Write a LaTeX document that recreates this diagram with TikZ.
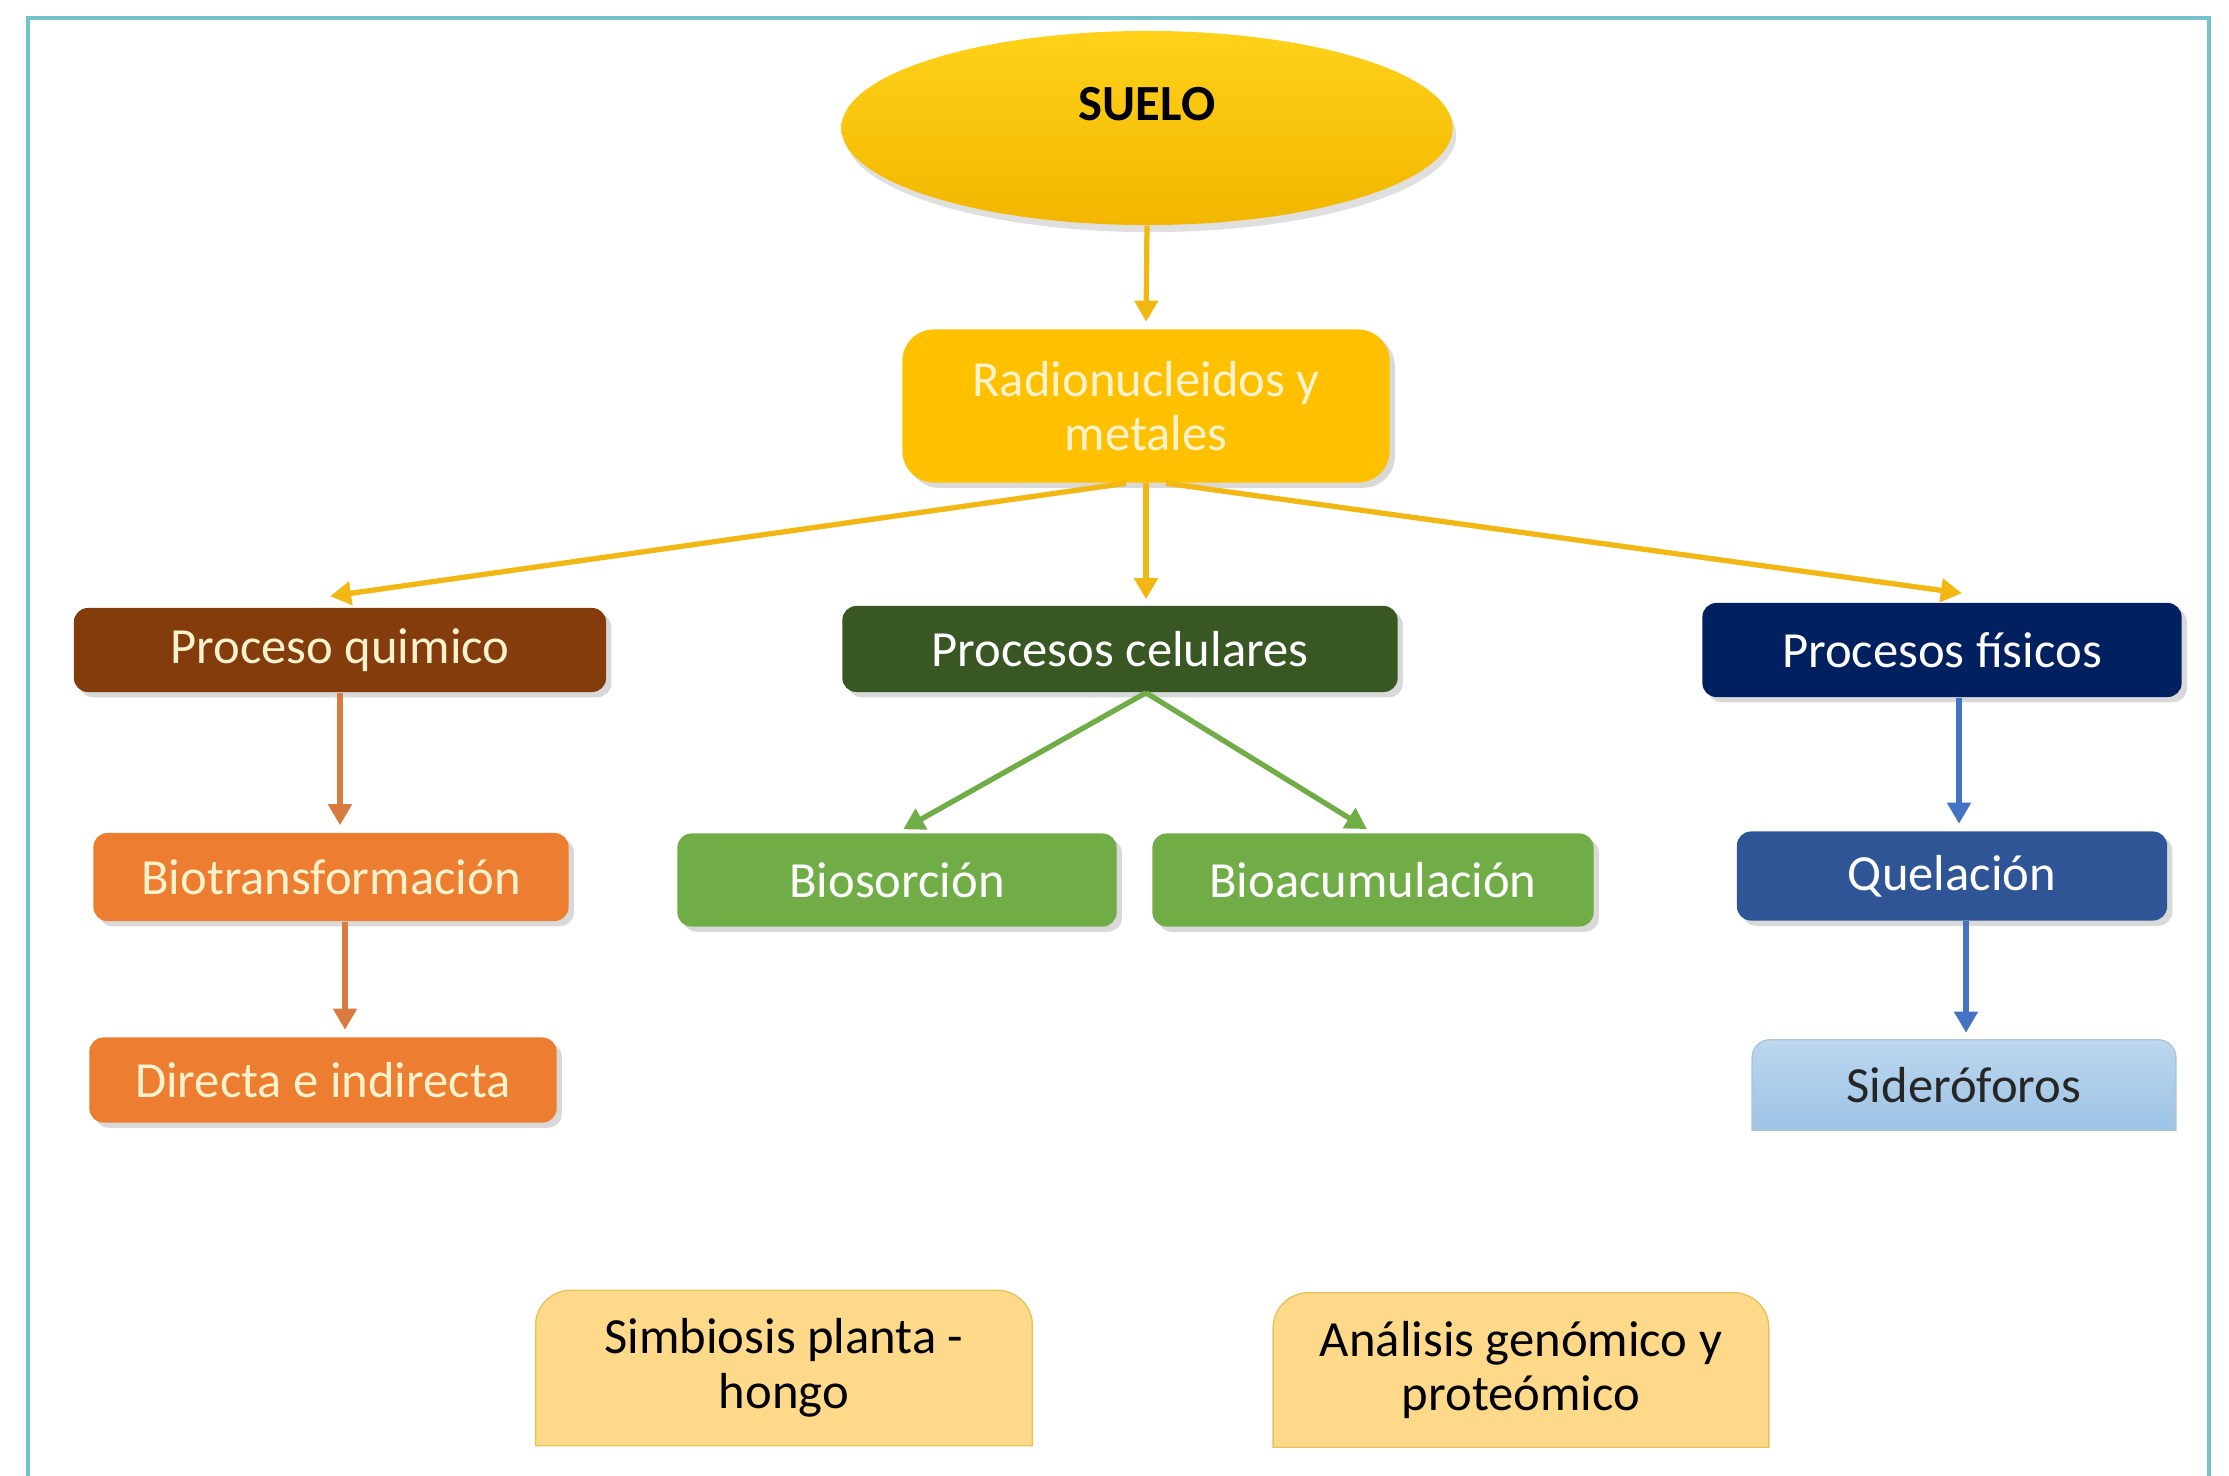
\documentclass[tikz,border=0pt]{standalone}
\usepackage{fontspec}
\setmainfont{Carlito}
\usepackage{tikz}
\usetikzlibrary{arrows.meta,shapes.geometric,shadows,backgrounds}
\definecolor{oro}{HTML}{FFC000}
\definecolor{oroflecha}{HTML}{F2B712}
\definecolor{cafe}{HTML}{843C0C}
\definecolor{naranja}{HTML}{ED7D31}
\definecolor{cafeflecha}{HTML}{D97B3F}
\definecolor{verdeosc}{HTML}{385723}
\definecolor{verde}{HTML}{70AD47}
\definecolor{marino}{HTML}{002060}
\definecolor{azul}{HTML}{2F5597}
\definecolor{azulflecha}{HTML}{4472C4}
\definecolor{celeste}{HTML}{9DC3E6}
\definecolor{celestecl}{HTML}{BDD7EE}
\definecolor{crema}{HTML}{FFD98A}
\definecolor{bordecrema}{HTML}{E8C25B}
\definecolor{marco}{HTML}{72C3CC}
\definecolor{textocrema}{HTML}{FFF2CC}

\begin{document}
\begin{tikzpicture}[x=.01cm,y=-.01cm,>={Triangle[length=6pt,width=6.5pt]},
  every node/.style={font=\fontsize{14.4}{15.5}\selectfont,align=center,inner sep=0pt},
  caja/.style={rectangle,rounded corners=4pt,text=textocrema,drop shadow={shadow xshift=1.5pt,shadow yshift=-1.5pt,opacity=.3}},
  flecha/.style={->,line width=1.5pt,shorten >=2pt}]
\useasboundingbox (0,0) rectangle (2229,1476);
\draw[marco,line width=1pt] (28,1476)--(28,18)--(2209,18)--(2209,1476);

\node[ellipse,top color=oro!80!yellow!90!white,bottom color=oro!95!black,minimum width=6.11cm,minimum height=1.94cm,text height=.3cm,text depth=.45cm,font=\fontsize{14.4}{15.5}\selectfont\bfseries,drop shadow={shadow xshift=1pt,shadow yshift=-2pt,opacity=.25}] (suelo) at (1147,128) {SUELO};
\node[caja,fill=oro,rounded corners=9pt,minimum width=4.87cm,minimum height=1.53cm] (radio) at (1146,406) {Radionucleidos y\\metales};

\node[caja,fill=cafe,minimum width=5.32cm,minimum height=.84cm] (quim) at (340,650) {Proceso quimico};
\node[caja,fill=verdeosc,text=white,minimum width=5.55cm,minimum height=.86cm] (cel) at (1120,649) {Procesos celulares};
\node[caja,fill=marino,text=white,minimum width=4.79cm,minimum height=.94cm] (fis) at (1942,650) {Procesos físicos};

\node[caja,fill=naranja,minimum width=4.75cm,minimum height=.88cm] (bio) at (331,877) {Biotransformación};
\node[caja,fill=naranja,minimum width=4.67cm,minimum height=.85cm] (dir) at (323,1080) {Directa e indirecta};
\node[caja,fill=verde,text=white,minimum width=4.39cm,minimum height=.93cm] (biosor) at (897,880) {Biosorción};
\node[caja,fill=verde,text=white,minimum width=4.41cm,minimum height=.93cm] (bioac) at (1373,880) {Bioacumulación};
\node[caja,fill=azul,text=white,minimum width=4.30cm,minimum height=.89cm] (quel) at (1952,876) {Quelación};
\node[minimum width=4.22cm,minimum height=.89cm,text=black!85] (sid) at (1964,1085) {Sideróforos};

\node[minimum width=4.95cm,minimum height=1.54cm] (simb) at (784,1368) {Simbiosis planta -\\hongo};
\node[minimum width=4.94cm,minimum height=1.53cm] (anal) at (1521,1370) {Análisis genómico y\\proteómico};

\begin{scope}[on background layer]
\shade[top color=celestecl,bottom color=celeste,draw=celeste!80!black!60] (sid.south west) [rounded corners=5pt] -- (sid.north west) -- (sid.north east) [sharp corners] -- (sid.south east) -- cycle;
\foreach \n in {simb,anal}{\fill[crema,draw=bordecrema] (\n.south west) [rounded corners=10pt] -- (\n.north west) -- (\n.north east) [sharp corners] -- (\n.south east) -- cycle;}
\end{scope}

\draw[flecha,oroflecha] (suelo.south) -- (radio.north);
\draw[flecha,oroflecha,shorten >=0pt] ([xshift=-.2cm]radio.south) -- ([xshift=-.1cm,yshift=.11cm]quim.north);
\draw[flecha,oroflecha,shorten >=0pt] (radio.south) -- ([yshift=.06cm]radio.south |- cel.north);
\draw[flecha,oroflecha,shorten >=0pt] ([xshift=.2cm]radio.south) -- ([xshift=.2cm,yshift=.09cm]fis.north);

\draw[flecha,cafeflecha] (quim.south) -- (quim.south |- bio.north);
\draw[flecha,cafeflecha] ([xshift=.05cm]quim.south |- bio.south) -- ([xshift=.05cm]quim.south |- dir.north);

\coordinate (pie) at (radio.south |- cel.south);
\draw[flecha,verde] (pie) -- (biosor.north);\draw[flecha,verde] (pie) -- (bioac.north);

\draw[flecha,azulflecha] ([xshift=.07cm]fis.south -| quel.north) -- ([xshift=.07cm]quel.north);
\draw[flecha,azulflecha] ([xshift=.14cm]quel.south) -- ([xshift=.14cm]quel.south |- sid.north);
\end{tikzpicture}
\end{document}
